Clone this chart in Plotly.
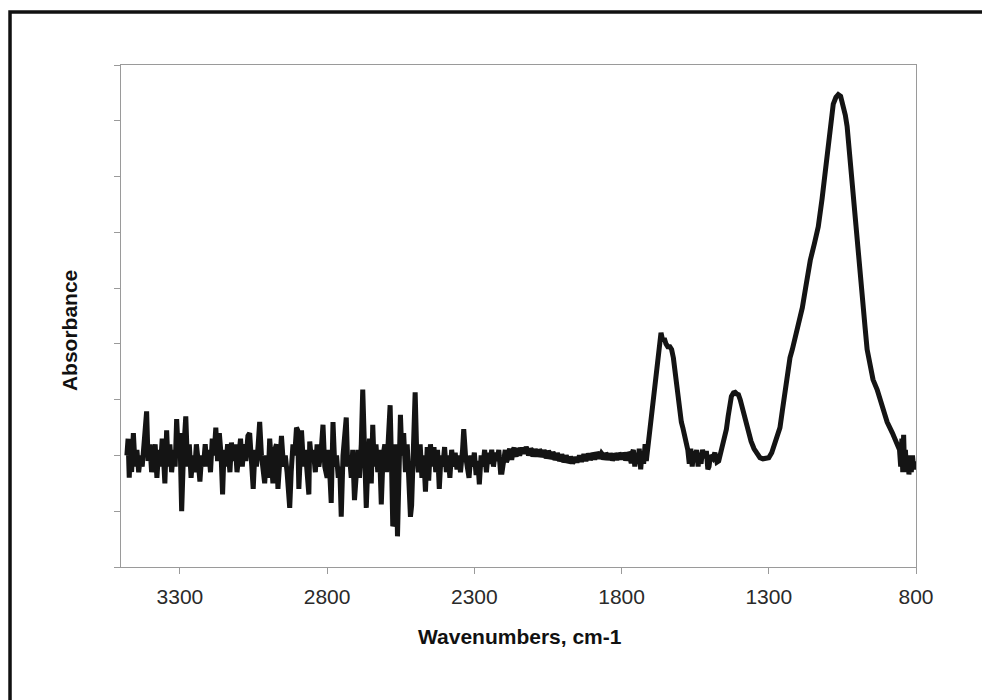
import plotly.graph_objects as go

# Noisy high-wavenumber region (cm-1, absorbance in arbitrary units)
wn_noise = [3480, 3476, 3472, 3468, 3464, 3458, 3452, 3446, 3440, 3434, 3428, 3420, 3413, 3408, 3402, 3396, 3390, 3384, 3378, 3372,
            3366, 3360, 3355, 3351, 3345, 3340, 3334, 3328, 3322, 3316, 3311, 3306, 3300, 3294, 3288, 3280, 3274, 3268, 3262, 3256,
            3250, 3244, 3238, 3232, 3226, 3220, 3214, 3208, 3202, 3196, 3190, 3184, 3178, 3172, 3166, 3160, 3155, 3150, 3144, 3138,
            3130, 3125, 3118, 3112, 3106, 3100, 3094, 3088, 3082, 3076, 3069, 3063, 3057, 3051, 3045, 3040, 3034, 3029, 3023, 3018,
            3012, 3006, 3000, 2995, 2990, 2984, 2978, 2972, 2967, 2961, 2955, 2948, 2942, 2936, 2932, 2927, 2922, 2916, 2910, 2904,
            2900, 2896, 2891, 2887, 2880, 2874, 2868, 2862, 2859, 2853, 2847, 2840, 2834, 2828, 2820, 2814, 2808, 2800, 2795, 2790,
            2786, 2780, 2774, 2768, 2762, 2757, 2752, 2746, 2740, 2735, 2730, 2724, 2718, 2713, 2707, 2701, 2695, 2690, 2684, 2679,
            2673, 2667, 2662, 2656, 2650, 2645, 2640, 2634, 2628, 2622, 2616, 2610, 2604, 2598, 2592, 2586, 2581, 2577, 2571, 2566,
            2561, 2556, 2551, 2546, 2540, 2534, 2528, 2522, 2517, 2513, 2507, 2501, 2496, 2490, 2484, 2478, 2472, 2466, 2460, 2455,
            2449, 2443, 2437, 2431, 2425, 2419, 2413, 2407, 2401, 2395, 2389, 2383, 2377, 2371, 2365, 2359, 2353, 2347, 2340, 2336,
            2330, 2324, 2318, 2312, 2306, 2300, 2294, 2288, 2283, 2277, 2271, 2265, 2259, 2253, 2247, 2241, 2235, 2229, 2223, 2217,
            2211, 2206, 2200]
abs_noise = [0.0, 0.03, -0.04, 0.02, -0.03, 0.04, -0.02, 0.01, -0.03, 0.0, -0.02, 0.03, 0.079, -0.01, 0.02, -0.03, 0.0, 0.02, -0.04, 0.01,
             -0.02, 0.03, -0.01, -0.05, 0.045, -0.02, 0.02, -0.03, 0.01, -0.02, 0.065, 0.01, 0.04, -0.10, 0.0, 0.07, -0.02, 0.02, -0.04, 0.0,
             -0.03, 0.02, -0.01, -0.047, 0.0, -0.02, 0.02, -0.02, 0.01, -0.03, 0.03, 0.0, 0.05, -0.01, 0.04, 0.0, -0.07, 0.01, -0.02, 0.02,
             -0.03, 0.023, -0.01, 0.02, -0.03, 0.0, 0.03, -0.02, 0.02, -0.01, 0.035, 0.04, 0.0, -0.06, 0.01, -0.02, 0.02, 0.06, 0.0, -0.03,
             -0.05, 0.0, -0.04, 0.03, 0.0, -0.05, 0.01, 0.02, -0.06, 0.0, 0.035, -0.02, 0.0, -0.03, -0.07, -0.094, -0.03, 0.02, 0.0, 0.05,
             0.045, -0.06, 0.0, 0.045, -0.02, 0.01, -0.03, -0.07, 0.025, -0.01, 0.01, -0.03, 0.02, -0.02, 0.01, 0.055, -0.02, -0.04, 0.01, -0.03,
             -0.085, 0.06, -0.02, 0.0, -0.04, -0.02, -0.11, 0.0, 0.03, 0.068, -0.02, 0.0, -0.04, 0.01, -0.08, -0.03, 0.01, -0.04, 0.02, 0.118,
             0.0, -0.094, -0.02, 0.03, -0.05, 0.055, -0.02, 0.02, -0.03, 0.01, -0.088, 0.0, 0.02, -0.03, 0.03, 0.09, -0.02, -0.127, -0.115, 0.02,
             -0.145, -0.05, 0.073, 0.0, 0.04, -0.03, 0.02, -0.05, -0.11, -0.09, 0.02, 0.113, 0.01, -0.03, 0.02, -0.04, 0.0, -0.065, 0.015, -0.045,
             0.02, -0.02, 0.015, -0.03, 0.01, -0.06, 0.0, -0.02, 0.015, -0.03, 0.0, -0.04, 0.01, -0.02, 0.005, -0.025, 0.0, -0.03, 0.01, 0.047,
             0.0, -0.02, -0.04, 0.0, -0.02, 0.005, -0.035, -0.01, -0.052, 0.0, -0.02, 0.01, -0.03, 0.005, -0.015, 0.01, -0.02, 0.005, -0.01, 0.01,
             -0.03, -0.03, 0.0]

# Quiet baseline region
wn_flat = [2195, 2191, 2188, 2184, 2180, 2176, 2172, 2168, 2165, 2161, 2158, 2154, 2150, 2146, 2142, 2138, 2135, 2131, 2128, 2124,
           2120, 2116, 2112, 2108, 2105, 2101, 2097, 2093, 2090, 2086, 2082, 2078, 2075, 2071, 2067, 2063, 2060, 2056, 2052, 2048,
           2045, 2041, 2037, 2033, 2030, 2026, 2022, 2018, 2015, 2011, 2007, 2003, 2000, 1996, 1992, 1988, 1985, 1981, 1977, 1973,
           1970, 1966, 1962, 1958, 1955, 1951, 1947, 1943, 1940, 1936, 1932, 1928, 1925, 1921, 1917, 1913, 1910, 1906, 1902, 1898,
           1895, 1891, 1887, 1883, 1880, 1876, 1872, 1868, 1865, 1861, 1857, 1853, 1850, 1846, 1842, 1838, 1835, 1831, 1827, 1823,
           1820, 1816, 1812, 1808, 1805, 1801, 1797, 1793, 1790, 1786, 1782, 1778, 1775, 1771, 1767, 1763, 1760, 1755, 1750, 1745,
           1740, 1735, 1730, 1725, 1720, 1716, 1712]
abs_flat = [0.01, -0.012, -0.008, 0.006, 0.012, -0.004, -0.004, 0.01, 0.014, 0.002, -0.002, 0.012, 0.01, 0.0, 0.006, 0.014, 0.01, 0.003, 0.008, 0.015,
            0.01, 0.0, 0.006, 0.012, 0.01, -0.002, 0.004, 0.011, 0.008, -0.002, 0.004, 0.01, 0.008, -0.003, 0.002, 0.009, 0.006, -0.005, 0.0, 0.008,
            0.005, -0.006, -0.002, 0.006, 0.003, -0.008, -0.004, 0.004, 0.0, -0.01, -0.006, 0.002, -0.002, -0.012, -0.008, 0.0, -0.004, -0.013, -0.01, -0.002,
            -0.006, -0.014, -0.01, -0.003, -0.006, -0.012, -0.008, 0.0, -0.004, -0.011, -0.005, 0.002, -0.002, -0.01, -0.004, 0.003, 0.0, -0.008, -0.003, 0.004,
            0.002, -0.007, -0.002, 0.005, 0.003, -0.006, -0.002, 0.004, 0.002, -0.007, -0.003, 0.004, 0.002, -0.008, -0.003, 0.003, 0.0, -0.009, -0.004, 0.003,
            0.001, -0.008, -0.003, 0.004, 0.002, -0.007, -0.002, 0.004, 0.002, -0.009, -0.004, 0.005, 0.003, -0.01, -0.014, 0.006, 0.01, -0.02, 0.005, -0.015,
            0.012, -0.025, 0.008, -0.015, 0.02, -0.01, 0.01]

# Band region
wn_bands = [1708, 1703, 1696, 1690, 1686, 1680, 1676, 1670, 1666, 1660, 1655, 1649, 1643, 1636, 1630, 1624, 1619, 1614, 1608, 1602,
            1597, 1592, 1587, 1580, 1575, 1570, 1565, 1560, 1555, 1550, 1545, 1540, 1535, 1530, 1525, 1518, 1512, 1507, 1503, 1498,
            1490, 1483, 1476, 1470, 1463, 1456, 1450, 1444, 1438, 1432, 1427, 1420, 1414, 1408, 1403, 1397, 1390, 1385, 1380, 1374,
            1368, 1360, 1350, 1340, 1330, 1320, 1310, 1300, 1290, 1280, 1270, 1262, 1254, 1246, 1237, 1228, 1220, 1211, 1203, 1195,
            1186, 1175, 1159, 1145, 1132, 1119, 1108, 1098, 1090, 1081, 1072, 1064, 1056, 1048, 1040, 1034, 1024, 1013, 1005, 997,
            988, 980, 973, 966, 956, 946, 932, 915, 898, 880, 864, 856, 852, 848, 845, 842, 839, 836, 832, 828,
            824, 820, 816, 812, 808, 804]
abs_bands = [0.015, 0.034, 0.07, 0.1, 0.124, 0.16, 0.185, 0.21, 0.22, 0.205, 0.21, 0.2, 0.195, 0.195, 0.19, 0.175, 0.15, 0.124, 0.1, 0.075,
             0.06, 0.05, 0.04, 0.023, 0.01, -0.015, 0.012, -0.02, 0.008, -0.012, 0.01, -0.02, 0.005, -0.015, 0.01, -0.005, 0.008, -0.025, -0.02, 0.0,
             -0.005, 0.005, -0.012, -0.01, 0.005, 0.02, 0.035, 0.047, 0.07, 0.095, 0.106, 0.112, 0.113, 0.11, 0.109, 0.1, 0.085, 0.07, 0.06, 0.048,
             0.04, 0.025, 0.012, 0.002, -0.004, -0.006, -0.006, -0.004, 0.005, 0.02, 0.035, 0.05, 0.08, 0.11, 0.15, 0.175, 0.19, 0.21, 0.23, 0.25,
             0.265, 0.3, 0.35, 0.38, 0.41, 0.46, 0.51, 0.56, 0.6, 0.63, 0.642, 0.647, 0.644, 0.63, 0.61, 0.59, 0.53, 0.47, 0.41, 0.35,
             0.31, 0.27, 0.23, 0.19, 0.16, 0.136, 0.118, 0.09, 0.06, 0.04, 0.023, 0.01, -0.02, 0.03, -0.03, 0.037, -0.02, 0.01, -0.03, 0.0,
             -0.034, -0.01, -0.03, 0.0, -0.025, -0.01]

wn = wn_noise + wn_flat + wn_bands
absorb = abs_noise + abs_flat + abs_bands

x_ticks = [3300, 2800, 2300, 1800, 1300, 800]

fig = go.Figure()
fig.add_trace(go.Scatter(x=wn, y=absorb, mode="lines",
                         line=dict(color="#141414", width=5), showlegend=False))

axis_col = "#9a9a9a"
fig.update_layout(
    width=990, height=700,
    margin=dict(l=113, r=82, t=57, b=141),
    paper_bgcolor="white", plot_bgcolor="white",
    font=dict(family="Liberation Sans, Arial, sans-serif", color="#333333"),
    xaxis=dict(range=[3500, 800], tickvals=x_ticks, ticktext=[str(v) for v in x_ticks],
               showgrid=False, zeroline=False, showline=True, linecolor=axis_col, linewidth=1,
               mirror=True, ticks="outside", ticklen=6, tickcolor=axis_col, ticklabelstandoff=5,
               tickfont=dict(size=21, color="#2a2a2a")),
    yaxis=dict(range=[-0.2, 0.7], tick0=-0.2, dtick=0.1, showticklabels=False,
               showgrid=False, zeroline=False, showline=True, linecolor=axis_col, linewidth=1,
               mirror=True, ticks="outside", ticklen=6, tickcolor=axis_col),
    annotations=[
        dict(text="<b>Wavenumbers, cm-1</b>", xref="paper", yref="paper", x=0.502, y=-0.1375,
             xanchor="center", yanchor="middle", showarrow=False,
             font=dict(size=21, color="#111111")),
        dict(text="<b>Absorbance</b>", xref="paper", yref="paper", x=-0.0654, y=0.47,
             xanchor="center", yanchor="middle", textangle=-90, showarrow=False,
             font=dict(size=21, color="#111111")),
    ],
    shapes=[dict(type="rect", xref="paper", yref="paper",
                 x0=-0.1396, x1=1.12, y0=-0.3, y1=1.1056,
                 line=dict(color="#111111", width=3.5), fillcolor="rgba(0,0,0,0)", layer="above")],
)

fig.write_html("out.html")
